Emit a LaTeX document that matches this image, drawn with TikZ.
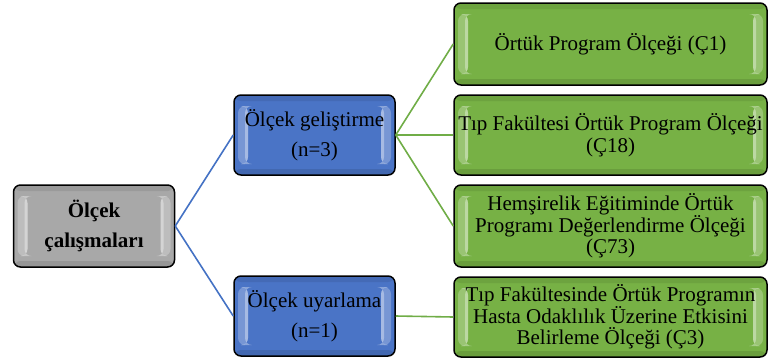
\documentclass[tikz,border=0pt]{standalone}
\usepackage{fontspec}
\setmainfont{Liberation Serif}
\definecolor{bfill}{HTML}{4A74C6}
\definecolor{gfill}{HTML}{77B145}
\definecolor{grfill}{HTML}{A8A8A8}
\definecolor{bline}{HTML}{4472C4}
\definecolor{gline}{HTML}{70AD47}
\tikzset{
  bevel/.style={path picture={
    \fill[white,opacity=0.25] ([xshift=4pt,yshift=-11pt]path picture bounding box.north west) rectangle ([xshift=14pt,yshift=11pt]path picture bounding box.south west);
    \fill[white,opacity=0.35] ([xshift=11pt,yshift=-11pt]path picture bounding box.north west) rectangle ([xshift=14pt,yshift=11pt]path picture bounding box.south west);
    \fill[white,opacity=0.25] ([xshift=-4pt,yshift=-11pt]path picture bounding box.north east) rectangle ([xshift=-14pt,yshift=11pt]path picture bounding box.south east);
    \fill[white,opacity=0.35] ([xshift=-11pt,yshift=-11pt]path picture bounding box.north east) rectangle ([xshift=-14pt,yshift=11pt]path picture bounding box.south east);
    \fill[black,opacity=0.08] (path picture bounding box.north west) rectangle ([yshift=-6pt]path picture bounding box.north east);
    \fill[black,opacity=0.10] (path picture bounding box.south west) rectangle ([yshift=6pt]path picture bounding box.south east);
  }},
  box/.style={draw=black, line width=1.5pt, rounded corners=7pt, align=center, inner sep=0pt, font=\fontsize{21}{21.7}\selectfont, bevel},
  graybox/.style={box, fill=grfill, minimum width=161pt, minimum height=82pt, font=\bfseries\fontsize{21}{30}\selectfont},
  bluebox/.style={box, fill=bfill, minimum width=161pt, minimum height=80pt, font=\fontsize{21}{30}\selectfont},
  greenbox/.style={box, fill=gfill, minimum width=313pt, minimum height=82pt},
  bconn/.style={draw=bline, line width=1.6pt},
  gconn/.style={draw=gline, line width=1.6pt},
}
\begin{document}
\begin{tikzpicture}[x=1pt,y=1pt]
\useasboundingbox (0,0) rectangle (768,-360);
\node[graybox] (root) at (94,-226) {Ölçek\\çalışmaları};
\node[bluebox] (dev) at (314.5,-135) {Ölçek geliştirme\\(n=3)};
\node[bluebox] (ada) at (314.5,-316) {Ölçek uyarlama\\(n=1)};
\node[greenbox] (g1) at (610.5,-44) {Örtük Program Ölçeği (Ç1)};
\node[greenbox, minimum height=80pt] (g2) at (610.5,-135) {Tıp Fakültesi Örtük Program Ölçeği\\(Ç18)};
\node[greenbox] (g3) at (610.5,-226) {Hemşirelik Eğitiminde Örtük\\Programı Değerlendirme Ölçeği\\(Ç73)};
\node[greenbox, minimum height=80pt] (g4) at (610.5,-317) {Tıp Fakültesinde Örtük Programın\\Hasta Odaklılık Üzerine Etkisini\\Belirleme Ölçeği (Ç3)};
\draw[bconn] (root.east) -- (dev.west);
\draw[bconn] (root.east) -- (ada.west);
\draw[gconn] (dev.east) -- (g1.west);
\draw[gconn] (dev.east) -- (g2.west);
\draw[gconn] (dev.east) -- (g3.west);
\draw[gconn] (ada.east) -- (g4.west);
\end{tikzpicture}
\end{document}
